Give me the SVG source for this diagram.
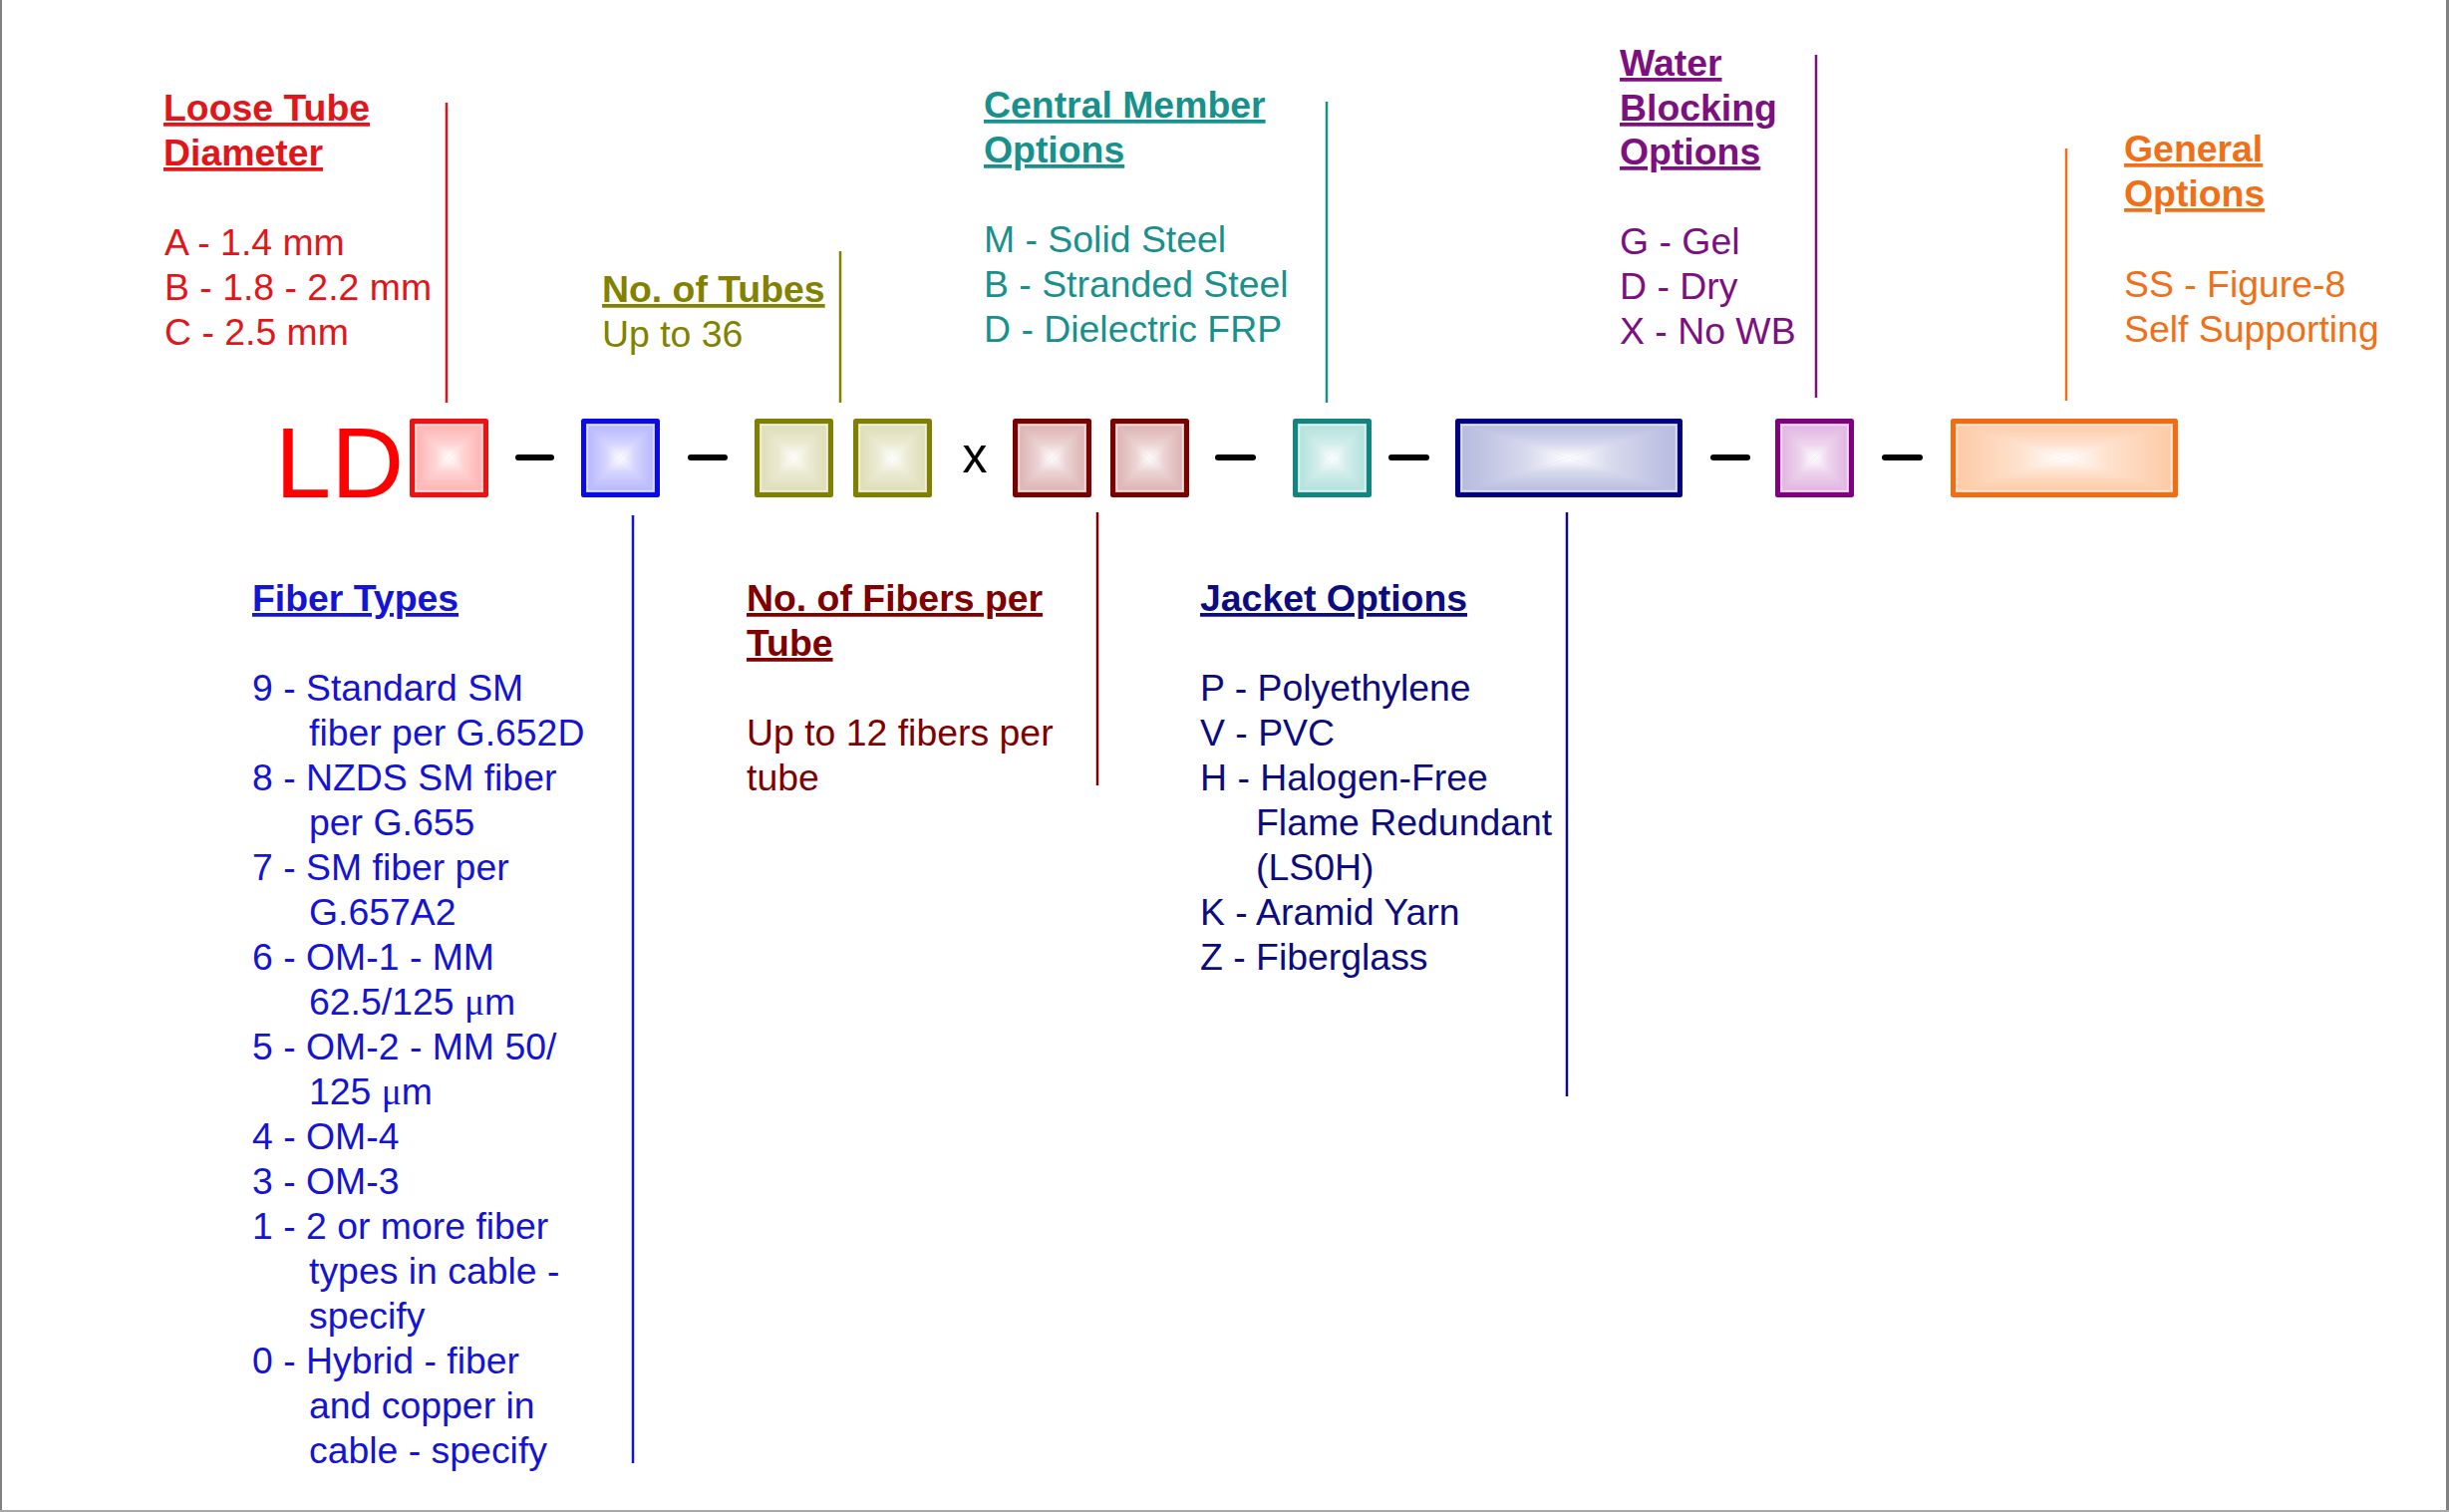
<svg xmlns="http://www.w3.org/2000/svg" width="2457" height="1517" viewBox="0 0 2457 1517">
<defs>
<style>
text{font-family:"Liberation Sans",Arial,sans-serif;font-size:37.4px}
.h{font-weight:bold;text-decoration:underline}
.mu{font-family:"Liberation Serif","Times New Roman",serif}
.ln{stroke-width:2.5;fill:none}
.dash{stroke:#000;stroke-width:6;stroke-linecap:round}
.bx{stroke-width:5;stroke-linejoin:round}
.hl{fill:none;stroke:#fff;stroke-opacity:0.55;stroke-width:1.5}
.red{fill:#e0161b}.redS{stroke:#ee1111}
.blu{fill:#1414d2}.bluS{stroke:#0a0ae8}
.olv{fill:#828200}.olvS{stroke:#808000}
.drd{fill:#800000}.drdS{stroke:#7a0000}
.tel{fill:#18918d}.telS{stroke:#138580}
.nvy{fill:#0c0c80}.nvyS{stroke:#000080}
.prp{fill:#7d1080}.prpS{stroke:#800080}
.org{fill:#f07018}.orgS{stroke:#f26d12}
</style>
<linearGradient id="gT" x1="0" y1="0" x2="0" y2="1"><stop offset="0" stop-color="#fff" stop-opacity="0"/><stop offset="0.6" stop-color="#fff" stop-opacity="0.45"/><stop offset="1" stop-color="#fff" stop-opacity="1"/></linearGradient>
<linearGradient id="gB" x1="0" y1="1" x2="0" y2="0"><stop offset="0" stop-color="#fff" stop-opacity="0"/><stop offset="0.6" stop-color="#fff" stop-opacity="0.45"/><stop offset="1" stop-color="#fff" stop-opacity="1"/></linearGradient>
<linearGradient id="gL" x1="0" y1="0" x2="1" y2="0"><stop offset="0" stop-color="#fff" stop-opacity="0"/><stop offset="0.6" stop-color="#fff" stop-opacity="0.45"/><stop offset="1" stop-color="#fff" stop-opacity="1"/></linearGradient>
<linearGradient id="gR" x1="1" y1="0" x2="0" y2="0"><stop offset="0" stop-color="#fff" stop-opacity="0"/><stop offset="0.6" stop-color="#fff" stop-opacity="0.45"/><stop offset="1" stop-color="#fff" stop-opacity="1"/></linearGradient>
<g id="ovS">
<polygon points="5,5 74,5 39.5,39.5" fill="url(#gT)"/>
<polygon points="5,74 74,74 39.5,39.5" fill="url(#gB)"/>
<polygon points="5,5 5,74 39.5,39.5" fill="url(#gL)"/>
<polygon points="74,5 74,74 39.5,39.5" fill="url(#gR)"/>
<rect x="6.5" y="6.5" width="66" height="66" class="hl"/>
</g>
<g id="ovW">
<polygon points="5,5 223,5 114,39.5" fill="url(#gT)"/>
<polygon points="5,74 223,74 114,39.5" fill="url(#gB)"/>
<polygon points="5,5 5,74 114,39.5" fill="url(#gL)"/>
<polygon points="223,5 223,74 114,39.5" fill="url(#gR)"/>
<rect x="6.5" y="6.5" width="215" height="66" class="hl"/>
</g>
</defs>
<rect x="0" y="0" width="2457" height="1517" fill="#fff"/>
<g id="frame">
<line x1="1" y1="0" x2="1" y2="1517" stroke="#808080" stroke-width="2"/>
<line x1="2455.5" y1="0" x2="2455.5" y2="1517" stroke="#808080" stroke-width="3"/>
<line x1="0" y1="1516" x2="2457" y2="1516" stroke="#a8a8a8" stroke-width="2"/>
</g>

<g id="code-LD"><text x="276" y="499" style="font-size:101px" fill="#ff0000">LD</text></g>

<g id="box-diameter" transform="translate(411,420)"><rect x="2.5" y="2.5" width="74" height="74" fill="#ffb0b0"/><use href="#ovS"/><rect x="2.5" y="2.5" width="74" height="74" fill="none" class="bx redS"/></g>
<g id="box-fiber" transform="translate(583,420)"><rect x="2.5" y="2.5" width="74" height="74" fill="#b4b4ff"/><use href="#ovS"/><rect x="2.5" y="2.5" width="74" height="74" fill="none" class="bx bluS"/></g>
<g id="box-tubes-1" transform="translate(757,420)"><rect x="2.5" y="2.5" width="74" height="74" fill="#dcdcb4"/><use href="#ovS"/><rect x="2.5" y="2.5" width="74" height="74" fill="none" class="bx olvS"/></g>
<g id="box-tubes-2" transform="translate(856,420)"><rect x="2.5" y="2.5" width="74" height="74" fill="#dcdcb4"/><use href="#ovS"/><rect x="2.5" y="2.5" width="74" height="74" fill="none" class="bx olvS"/></g>
<g id="box-fibers-1" transform="translate(1016,420)"><rect x="2.5" y="2.5" width="74" height="74" fill="#dcb0b0"/><use href="#ovS"/><rect x="2.5" y="2.5" width="74" height="74" fill="none" class="bx drdS"/></g>
<g id="box-fibers-2" transform="translate(1114,420)"><rect x="2.5" y="2.5" width="74" height="74" fill="#dcb0b0"/><use href="#ovS"/><rect x="2.5" y="2.5" width="74" height="74" fill="none" class="bx drdS"/></g>
<g id="box-central" transform="translate(1297,420)"><rect x="2.5" y="2.5" width="74" height="74" fill="#b0e0dc"/><use href="#ovS"/><rect x="2.5" y="2.5" width="74" height="74" fill="none" class="bx telS"/></g>
<g id="box-jacket" transform="translate(1460,420)"><rect x="2.5" y="2.5" width="223" height="74" fill="#b6bade"/><use href="#ovW"/><rect x="2.5" y="2.5" width="223" height="74" fill="none" class="bx nvyS"/></g>
<g id="box-water" transform="translate(1781,420)"><rect x="2.5" y="2.5" width="74" height="74" fill="#e0b2e0"/><use href="#ovS"/><rect x="2.5" y="2.5" width="74" height="74" fill="none" class="bx prpS"/></g>
<g id="box-general" transform="translate(1957,420)"><rect x="2.5" y="2.5" width="223" height="74" fill="#fdcaa6"/><use href="#ovW"/><rect x="2.5" y="2.5" width="223" height="74" fill="none" class="bx orgS"/></g>

<g id="separators">
<line x1="520" y1="459" x2="553" y2="459" class="dash"/>
<line x1="693" y1="459" x2="727" y2="459" class="dash"/>
<text x="978" y="474" text-anchor="middle" style="font-size:50px" fill="#000">x</text>
<line x1="1222" y1="459" x2="1257" y2="459" class="dash"/>
<line x1="1396" y1="459" x2="1431" y2="459" class="dash"/>
<line x1="1719" y1="459" x2="1753" y2="459" class="dash"/>
<line x1="1891" y1="459" x2="1926" y2="459" class="dash"/>
</g>

<g id="connectors">
<line x1="448" y1="103" x2="448" y2="404" class="ln" stroke="#e0161b"/>
<line x1="843" y1="252" x2="843" y2="404" class="ln" stroke="#828200"/>
<line x1="1331" y1="102" x2="1331" y2="404" class="ln" stroke="#18918d"/>
<line x1="1822" y1="55" x2="1822" y2="399" class="ln" stroke="#7d1080"/>
<line x1="2073" y1="149" x2="2073" y2="402" class="ln" stroke="#f07018"/>
<line x1="635" y1="517" x2="635" y2="1468" class="ln" stroke="#1414d2"/>
<line x1="1101" y1="514" x2="1101" y2="788" class="ln" stroke="#800000"/>
<line x1="1572" y1="514" x2="1572" y2="1100" class="ln" stroke="#0c0c80"/>
</g>

<g id="label-diameter" class="red">
<text x="164" y="121" class="h">Loose Tube</text>
<text x="164" y="166" class="h">Diameter</text>
<text x="165" y="256">A - 1.4 mm</text>
<text x="165" y="301">B - 1.8 - 2.2 mm</text>
<text x="165" y="346">C - 2.5 mm</text>
</g>

<g id="label-tubes" class="olv">
<text x="604" y="303" class="h">No. of Tubes</text>
<text x="604" y="348">Up to 36</text>
</g>

<g id="label-central" class="tel">
<text x="987" y="118" class="h">Central Member</text>
<text x="987" y="163" class="h">Options</text>
<text x="987" y="253">M - Solid Steel</text>
<text x="987" y="298">B - Stranded Steel</text>
<text x="987" y="343">D - Dielectric FRP</text>
</g>

<g id="label-water" class="prp">
<text x="1625" y="76" class="h">Water</text>
<text x="1625" y="121" class="h">Blocking</text>
<text x="1625" y="165" class="h">Options</text>
<text x="1625" y="255">G - Gel</text>
<text x="1625" y="300">D - Dry</text>
<text x="1625" y="345">X - No WB</text>
</g>

<g id="label-general" class="org">
<text x="2131" y="162" class="h">General</text>
<text x="2131" y="207" class="h">Options</text>
<text x="2131" y="298">SS - Figure-8</text>
<text x="2131" y="343">Self Supporting</text>
</g>

<g id="label-fiber" class="blu">
<text x="253" y="613" class="h">Fiber Types</text>
<text x="253" y="703">9 - Standard SM</text>
<text x="310" y="748">fiber per G.652D</text>
<text x="253" y="793">8 - NZDS SM fiber</text>
<text x="310" y="838">per G.655</text>
<text x="253" y="883">7 - SM fiber per</text>
<text x="310" y="928">G.657A2</text>
<text x="253" y="973">6 - OM-1 - MM</text>
<text x="310" y="1018">62.5/125 <tspan class="mu">μ</tspan>m</text>
<text x="253" y="1063">5 - OM-2 - MM 50/</text>
<text x="310" y="1108">125 <tspan class="mu">μ</tspan>m</text>
<text x="253" y="1153">4 - OM-4</text>
<text x="253" y="1198">3 - OM-3</text>
<text x="253" y="1243">1 - 2 or more fiber</text>
<text x="310" y="1288">types in cable -</text>
<text x="310" y="1333">specify</text>
<text x="253" y="1378">0 - Hybrid - fiber</text>
<text x="310" y="1423">and copper in</text>
<text x="310" y="1468">cable - specify</text>
</g>

<g id="label-fibers-per-tube" class="drd">
<text x="749" y="613" class="h">No. of Fibers per</text>
<text x="749" y="658" class="h">Tube</text>
<text x="749" y="748">Up to 12 fibers per</text>
<text x="749" y="793">tube</text>
</g>

<g id="label-jacket" class="nvy">
<text x="1204" y="613" class="h">Jacket Options</text>
<text x="1204" y="703">P - Polyethylene</text>
<text x="1204" y="748">V - PVC</text>
<text x="1204" y="793">H - Halogen-Free</text>
<text x="1260" y="838">Flame Redundant</text>
<text x="1260" y="883">(LS0H)</text>
<text x="1204" y="928">K - Aramid Yarn</text>
<text x="1204" y="973">Z - Fiberglass</text>
</g>
</svg>
